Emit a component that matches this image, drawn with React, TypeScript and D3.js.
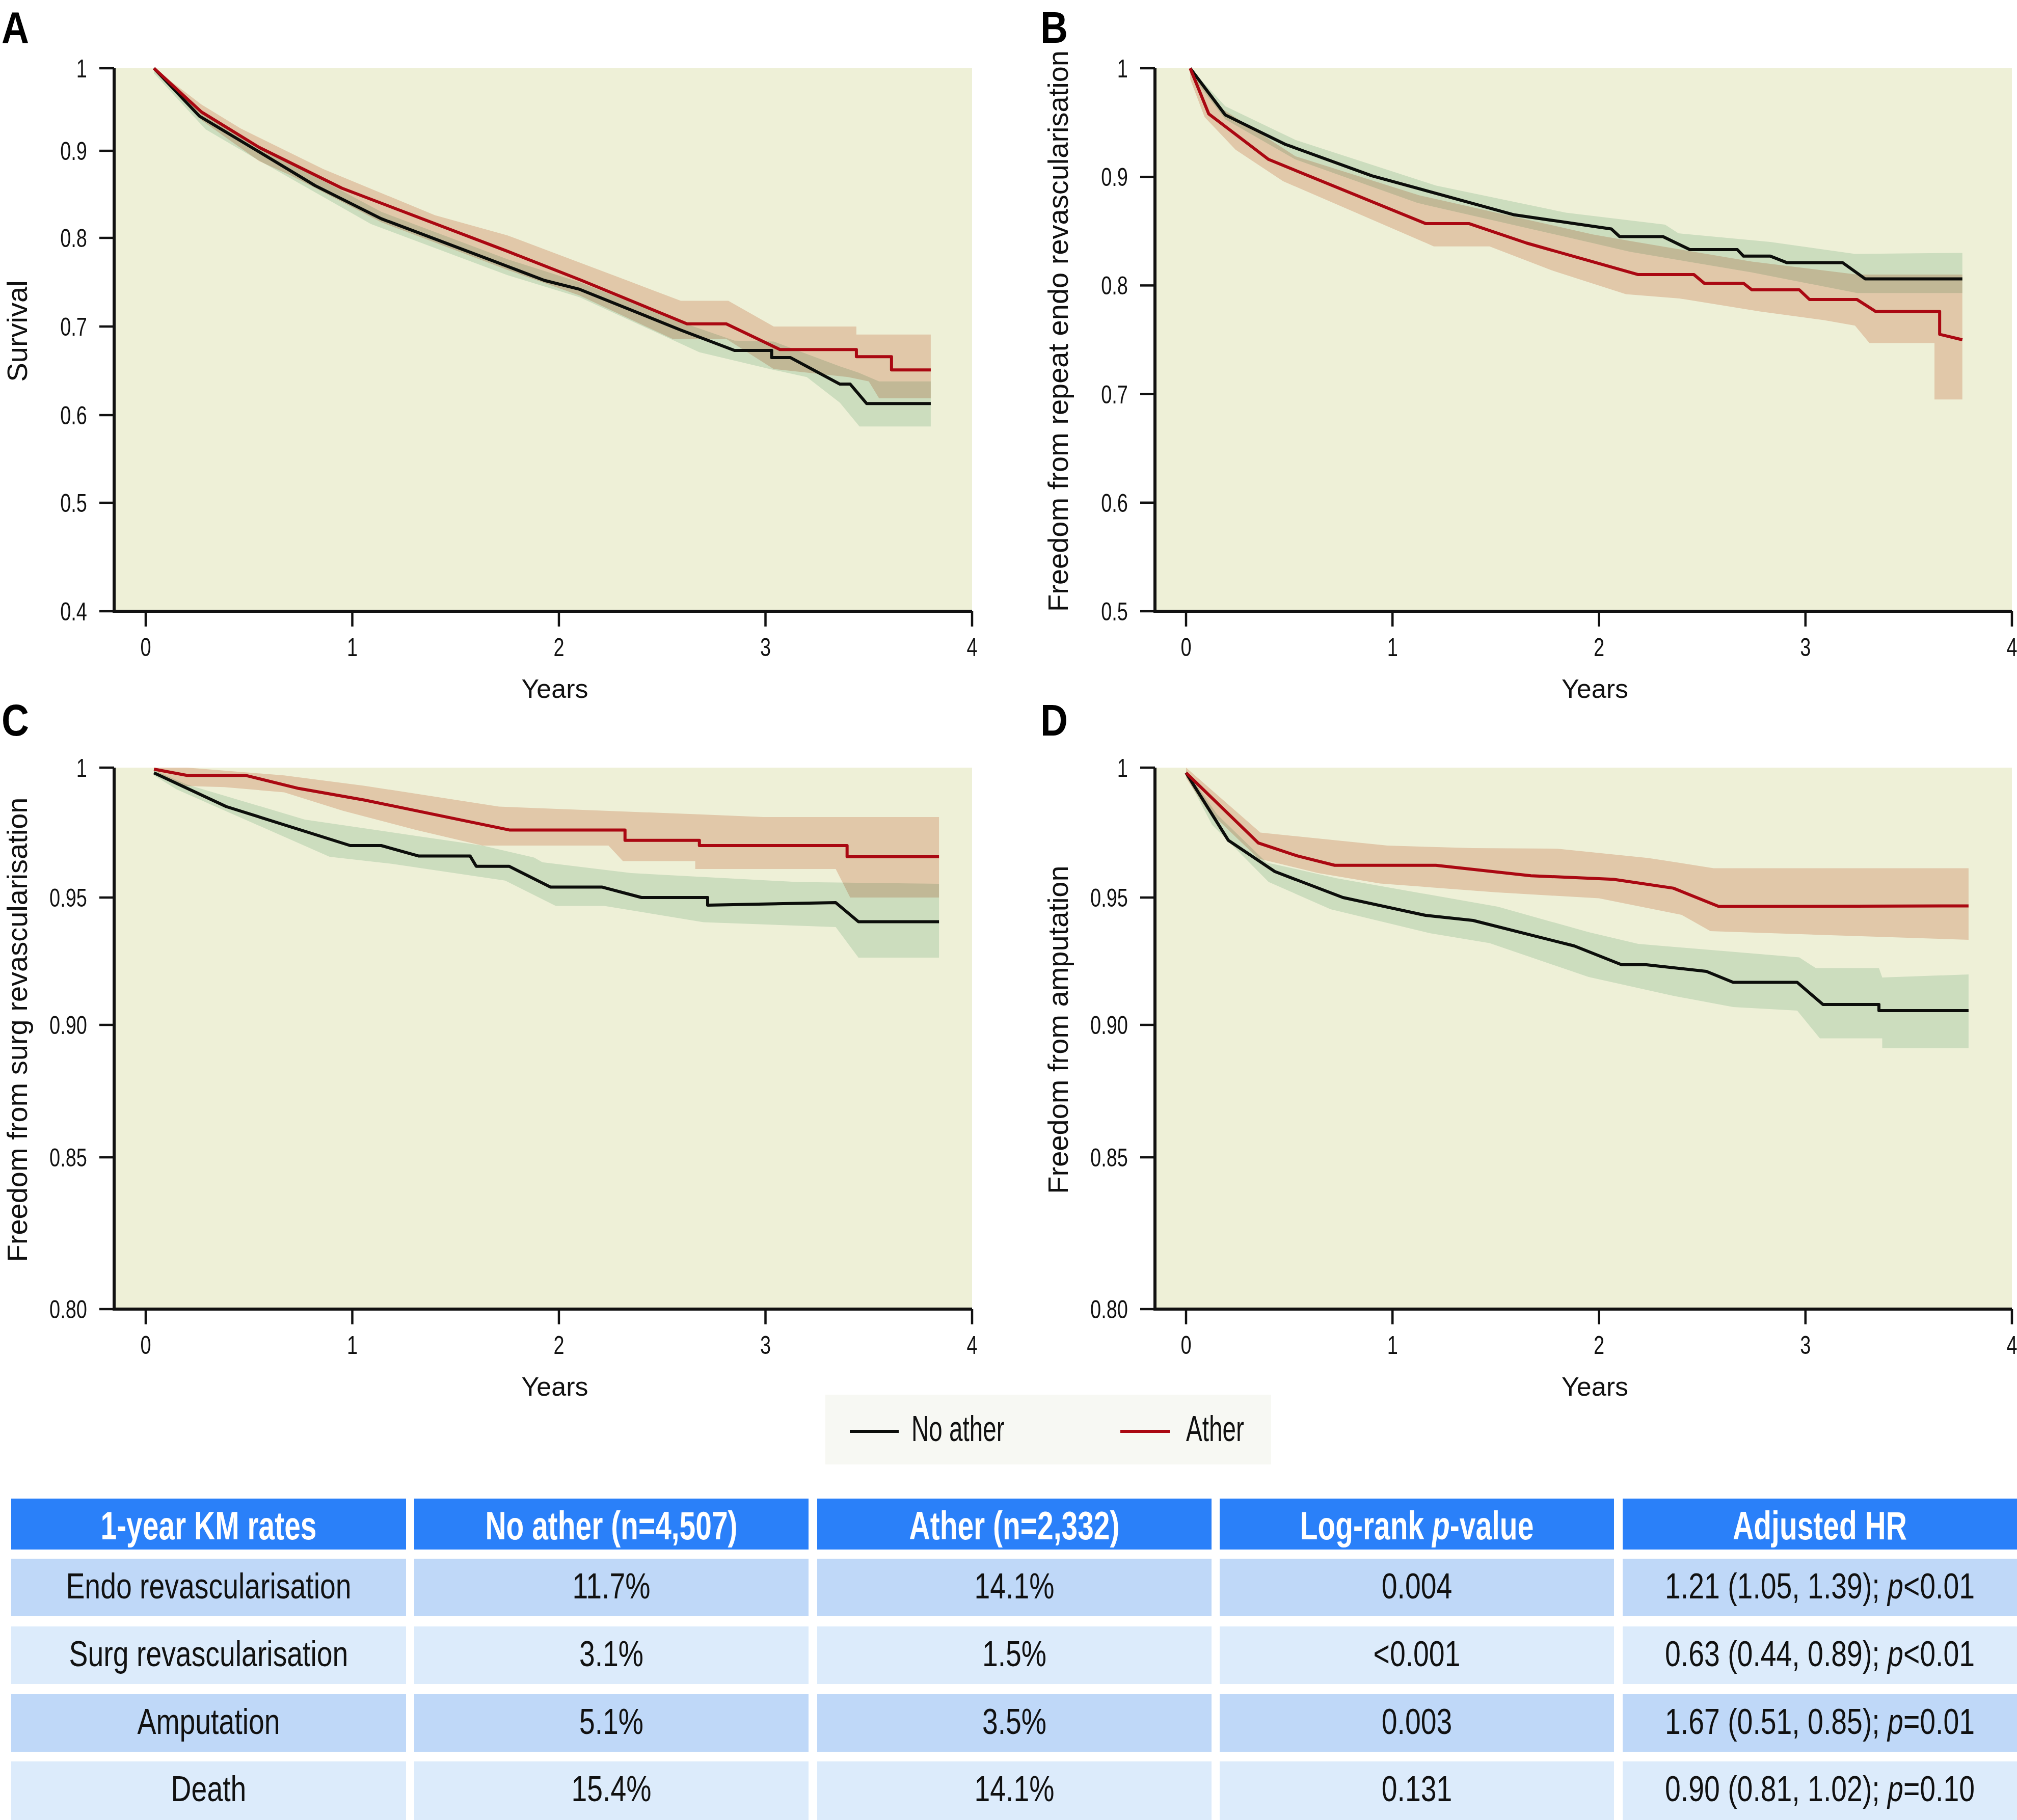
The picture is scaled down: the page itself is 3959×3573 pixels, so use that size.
import React from "react";
import * as d3 from "d3";

const W = 3959;
const H = 3573;

// ---------- data ----------
const xTicks = [0, 1, 2, 3, 4];
const xTickLabels = ["0", "1", "2", "3", "4"];

const yTicksA = [1, 0.9, 0.8, 0.7, 0.6, 0.5, 0.4];
const yTickLabelsA = ["1", "0.9", "0.8", "0.7", "0.6", "0.5", "0.4"];
const yTicksB = [1, 0.9, 0.8, 0.7, 0.6, 0.5];
const yTickLabelsB = ["1", "0.9", "0.8", "0.7", "0.6", "0.5"];
const yTicksCD = [1, 0.95, 0.9, 0.85, 0.8];
const yTickLabelsCD = ["1", "0.95", "0.90", "0.85", "0.80"];

type P = [number, number];

// Panel A – survival
const survNoAther: P[] = [[0.04,1.0],[0.26,0.942],[0.54,0.900],[0.82,0.860],[1.14,0.822],[1.75,0.768],[1.93,0.752],[2.10,0.742],[2.59,0.696],[2.85,0.673],[3.03,0.673],[3.03,0.665],[3.12,0.665],[3.36,0.635],[3.41,0.635],[3.49,0.613],[3.80,0.613]];
const survAther: P[] = [[0.04,1.0],[0.27,0.947],[0.55,0.904],[0.95,0.857],[1.75,0.785],[2.11,0.752],[2.62,0.703],[2.81,0.703],[3.07,0.674],[3.44,0.674],[3.44,0.666],[3.61,0.666],[3.61,0.651],[3.80,0.651]];
const survNoAtherHi: P[] = [[0.04,1.0],[0.26,0.948],[0.54,0.906],[1.14,0.830],[1.75,0.776],[2.10,0.750],[2.59,0.705],[2.85,0.684],[3.04,0.683],[3.12,0.676],[3.36,0.655],[3.45,0.648],[3.55,0.638],[3.80,0.638]];
const survNoAtherLo: P[] = [[0.04,0.994],[0.29,0.926],[0.54,0.890],[1.09,0.816],[1.75,0.758],[2.10,0.733],[2.68,0.671],[3.04,0.651],[3.20,0.643],[3.36,0.614],[3.455,0.587],[3.80,0.587]];
const survAtherHi: P[] = [[0.04,1.0],[0.27,0.956],[0.46,0.927],[0.86,0.879],[1.40,0.826],[1.75,0.803],[2.33,0.752],[2.59,0.729],[2.82,0.729],[3.04,0.700],[3.44,0.700],[3.44,0.691],[3.80,0.691]];
const survAtherLo: P[] = [[0.04,0.997],[0.27,0.937],[0.55,0.888],[0.70,0.872],[1.14,0.818],[1.75,0.764],[2.10,0.735],[2.55,0.686],[2.81,0.686],[3.04,0.652],[3.40,0.643],[3.50,0.638],[3.55,0.619],[3.80,0.619]];

// Panel B – repeat endo revascularisation
const endoNoAther: P[] = [[0.02,1.0],[0.19,0.957],[0.48,0.930],[0.90,0.901],[1.59,0.865],[2.06,0.852],[2.10,0.845],[2.31,0.845],[2.44,0.833],[2.67,0.833],[2.70,0.827],[2.83,0.827],[2.91,0.821],[3.18,0.821],[3.29,0.806],[3.76,0.806]];
const endoAther: P[] = [[0.02,1.0],[0.11,0.958],[0.40,0.916],[1.16,0.857],[1.37,0.857],[1.65,0.839],[2.19,0.810],[2.46,0.810],[2.51,0.802],[2.70,0.802],[2.74,0.796],[2.97,0.796],[3.02,0.787],[3.25,0.787],[3.34,0.776],[3.65,0.776],[3.65,0.755],[3.76,0.750]];
const endoNoAtherHi: P[] = [[0.02,1.0],[0.19,0.965],[0.53,0.934],[1.21,0.892],[1.84,0.867],[2.32,0.856],[2.385,0.848],[2.83,0.840],[3.24,0.829],[3.76,0.830]];
const endoNoAtherLo: P[] = [[0.02,0.995],[0.19,0.953],[0.53,0.916],[1.12,0.876],[1.97,0.839],[2.15,0.831],[2.74,0.812],[3.25,0.793],[3.76,0.793]];
const endoAtherHi: P[] = [[0.02,1.0],[0.18,0.962],[0.53,0.919],[1.13,0.883],[1.97,0.847],[2.15,0.841],[2.74,0.822],[3.25,0.810],[3.76,0.810]];
const endoAtherLo: P[] = [[0.02,0.99],[0.09,0.955],[0.24,0.925],[0.47,0.896],[1.20,0.836],[1.47,0.836],[1.77,0.814],[2.13,0.792],[2.39,0.788],[2.78,0.776],[3.09,0.768],[3.24,0.763],[3.31,0.747],[3.625,0.747],[3.625,0.695],[3.76,0.695]];

// Panel C – surgical revascularisation
const surgNoAther: P[] = [[0.04,0.998],[0.39,0.985],[0.99,0.970],[1.14,0.970],[1.32,0.966],[1.57,0.966],[1.60,0.962],[1.76,0.962],[1.96,0.954],[2.21,0.954],[2.40,0.950],[2.72,0.950],[2.72,0.947],[3.34,0.948],[3.45,0.9405],[3.84,0.9405]];
const surgAther: P[] = [[0.04,0.9994],[0.20,0.997],[0.485,0.997],[0.74,0.992],[1.06,0.9875],[1.76,0.976],[2.32,0.976],[2.32,0.972],[2.68,0.972],[2.68,0.970],[3.395,0.970],[3.395,0.9657],[3.84,0.9657]];
const surgNoAtherHi: P[] = [[0.04,0.999],[0.20,0.9935],[0.77,0.980],[1.32,0.9736],[1.63,0.970],[1.88,0.9654],[1.92,0.9636],[2.35,0.9594],[3.15,0.956],[3.84,0.9553]];
const surgNoAtherLo: P[] = [[0.04,0.997],[0.15,0.9916],[0.89,0.9657],[1.19,0.963],[1.74,0.9565],[1.985,0.9467],[2.22,0.9467],[2.70,0.9403],[3.34,0.9384],[3.45,0.9264],[3.84,0.9264]];
const surgAtherHi: P[] = [[0.04,1.0],[0.20,1.0],[0.67,0.997],[1.06,0.993],[1.71,0.985],[2.68,0.982],[2.99,0.981],[3.84,0.981]];
const surgAtherLo: P[] = [[0.04,0.999],[0.17,0.993],[0.38,0.9925],[0.67,0.9905],[0.955,0.9834],[1.31,0.976],[1.63,0.970],[2.24,0.970],[2.31,0.964],[2.66,0.964],[2.66,0.961],[3.34,0.961],[3.41,0.950],[3.84,0.950]];

// Panel D – amputation
const ampNoAther: P[] = [[0.0,0.998],[0.205,0.972],[0.43,0.960],[0.76,0.950],[1.16,0.943],[1.39,0.941],[1.88,0.931],[2.11,0.9236],[2.23,0.9236],[2.52,0.921],[2.65,0.9167],[2.96,0.9167],[3.085,0.908],[3.356,0.908],[3.356,0.9056],[3.79,0.9056]];
const ampAther: P[] = [[0.0,0.998],[0.35,0.971],[0.54,0.966],[0.72,0.9624],[1.21,0.9624],[1.67,0.9584],[2.07,0.957],[2.36,0.9536],[2.58,0.9465],[3.79,0.9467]];
const ampNoAtherHi: P[] = [[0.0,0.999],[0.15,0.982],[0.39,0.9635],[0.73,0.9574],[1.51,0.9464],[1.95,0.9364],[2.19,0.9318],[2.97,0.9265],[3.05,0.9223],[3.356,0.9223],[3.372,0.9186],[3.79,0.9198]];
const ampNoAtherLo: P[] = [[0.0,0.997],[0.126,0.978],[0.40,0.956],[0.70,0.9454],[1.18,0.936],[1.47,0.9321],[1.95,0.9188],[2.36,0.9114],[2.65,0.907],[2.96,0.9056],[3.07,0.8949],[3.372,0.8949],[3.372,0.8912],[3.79,0.8912]];
const ampAtherHi: P[] = [[0.0,1.0],[0.36,0.975],[0.975,0.970],[1.39,0.969],[1.80,0.9688],[2.24,0.9652],[2.555,0.9613],[3.79,0.9613]];
const ampAtherLo: P[] = [[0.0,0.996],[0.10,0.984],[0.35,0.965],[0.64,0.9594],[0.94,0.9554],[1.50,0.952],[2.0,0.9497],[2.40,0.9432],[2.54,0.9368],[3.79,0.9334]];

// Legend
const seriesNames = ["No ather", "Ather"];

// Table
const tableHeader = ["1-year KM rates", "No ather (n=4,507)", "Ather (n=2,332)", "Log-rank |p|-value", "Adjusted HR"];
const outcomes = ["Endo revascularisation", "Surg revascularisation", "Amputation", "Death"];
const rateNoAther = ["11.7%", "3.1%", "5.1%", "15.4%"];
const rateAther = ["14.1%", "1.5%", "3.5%", "14.1%"];
const logRankP = ["0.004", "<0.001", "0.003", "0.131"];
const adjustedHR = ["1.21 (1.05, 1.39); |p|<0.01", "0.63 (0.44, 0.89); |p|<0.01", "1.67 (0.51, 0.85); |p|=0.01", "0.90 (0.81, 1.02); |p|=0.10"];

// ---------- styles / layout ----------
const FONT = "'Liberation Sans', Arial, Helvetica, sans-serif";
const PLOT_BG = "#eef0d7";
const GREEN_BAND = "#dbebe2";
const RED_BAND = "#f1d5c9";
const BLACK = "#0c0e0b";
const RED = "#aa0812";
const HEADER_BG = "#2a80f9";
const ROW_DARK = "#bfd8f8";
const ROW_LIGHT = "#dcebfb";

const fracA = [0, 0.152, 0.3124, 0.4756, 0.6388, 0.8002, 1];
const fracB = [0, 0.2, 0.4, 0.6, 0.8, 1];
const fracCD = [0, 0.2399, 0.4751, 0.7197, 1];

interface PanelCfg {
  letter: string;
  letterX: number;
  letterY: number;
  axisX: number;
  x0: number;
  x4: number;
  top: number;
  bottom: number;
  yTicks: number[];
  yLabels: string[];
  yFrac: number[];
  title: string;
  noAther: P[];
  ather: P[];
  noAtherHi: P[];
  noAtherLo: P[];
  atherHi: P[];
  atherLo: P[];
}

const panels: PanelCfg[] = [
  { letter: "A", letterX: 3, letterY: 84, axisX: 224, x0: 286, x4: 1908, top: 134, bottom: 1200,
    yTicks: yTicksA, yLabels: yTickLabelsA, yFrac: fracA, title: "Survival",
    noAther: survNoAther, ather: survAther, noAtherHi: survNoAtherHi, noAtherLo: survNoAtherLo, atherHi: survAtherHi, atherLo: survAtherLo },
  { letter: "B", letterX: 2042, letterY: 84, axisX: 2267, x0: 2328, x4: 3949, top: 134, bottom: 1200,
    yTicks: yTicksB, yLabels: yTickLabelsB, yFrac: fracB, title: "Freedom from repeat endo revascularisation",
    noAther: endoNoAther, ather: endoAther, noAtherHi: endoNoAtherHi, noAtherLo: endoNoAtherLo, atherHi: endoAtherHi, atherLo: endoAtherLo },
  { letter: "C", letterX: 3, letterY: 1444, axisX: 224, x0: 286, x4: 1908, top: 1507, bottom: 2570,
    yTicks: yTicksCD, yLabels: yTickLabelsCD, yFrac: fracCD, title: "Freedom from surg revascularisation",
    noAther: surgNoAther, ather: surgAther, noAtherHi: surgNoAtherHi, noAtherLo: surgNoAtherLo, atherHi: surgAtherHi, atherLo: surgAtherLo },
  { letter: "D", letterX: 2042, letterY: 1444, axisX: 2267, x0: 2328, x4: 3949, top: 1507, bottom: 2570,
    yTicks: yTicksCD, yLabels: yTickLabelsCD, yFrac: fracCD, title: "Freedom from amputation",
    noAther: ampNoAther, ather: ampAther, noAtherHi: ampNoAtherHi, noAtherLo: ampNoAtherLo, atherHi: ampAtherHi, atherLo: ampAtherLo },
];

// condensed text helper
function CText(props: {
  x: number; y: number; sx: number; size: number; text: string; anchor?: string;
  weight?: string | number; fill?: string;
}) {
  const { x, y, sx, size, text, anchor = "start", weight = "normal", fill = "#111" } = props;
  const parts = text.split("|");
  return (
    <g transform={`translate(${x},${y}) scale(${sx},1)`}>
      <text x={0} y={0} textAnchor={anchor} fontFamily={FONT} fontSize={size} fontWeight={weight} fill={fill}>
        {parts.map((p, i) => (
          <tspan key={i} fontStyle={i % 2 === 1 ? "italic" : "normal"}>{p}</tspan>
        ))}
      </text>
    </g>
  );
}

function Panel({ cfg }: { cfg: PanelCfg }) {
  const xs = d3.scaleLinear().domain([0, 4]).range([cfg.x0, cfg.x4]);
  const ys = d3
    .scaleLinear()
    .domain(cfg.yTicks)
    .range(cfg.yFrac.map((f) => cfg.top + f * (cfg.bottom - cfg.top)));
  const line = d3
    .line<P>()
    .x((d) => xs(d[0]))
    .y((d) => ys(d[1]))
    .curve(d3.curveLinear);
  const band = (hi: P[], lo: P[]) => line(hi.concat(lo.slice().reverse())) + "Z";
  const midY = (cfg.top + cfg.bottom) / 2 - 17;
  const titleX = cfg.axisX - 171;

  return (
    <g>
      <CText x={cfg.letterX} y={cfg.letterY} sx={0.85} size={88} text={cfg.letter} weight="bold" fill="#000" />
      <rect x={cfg.axisX} y={cfg.top} width={cfg.x4 - cfg.axisX} height={cfg.bottom - cfg.top} fill={PLOT_BG} />
      <path d={band(cfg.noAtherHi, cfg.noAtherLo)} fill={GREEN_BAND} style={{ mixBlendMode: "multiply" }} />
      <path d={band(cfg.atherHi, cfg.atherLo)} fill={RED_BAND} style={{ mixBlendMode: "multiply" }} />
      <path d={line(cfg.noAther) || ""} fill="none" stroke={BLACK} strokeWidth={6} strokeLinejoin="round" />
      <path d={line(cfg.ather) || ""} fill="none" stroke={RED} strokeWidth={6} strokeLinejoin="round" />
      {/* y axis */}
      <line x1={cfg.axisX} x2={cfg.axisX} y1={cfg.top} y2={cfg.bottom + 3} stroke="#111" strokeWidth={6} />
      {cfg.yTicks.map((t, i) => (
        <g key={"yt" + i}>
          <line x1={cfg.axisX - 29} x2={cfg.axisX} y1={ys(t)} y2={ys(t)} stroke="#111" strokeWidth={4.5} />
          <CText x={cfg.axisX - 53} y={ys(t) + 18} sx={0.76} size={50} text={cfg.yLabels[i]} anchor="end" />
        </g>
      ))}
      {/* x axis */}
      <line x1={cfg.axisX - 3} x2={cfg.x4} y1={cfg.bottom} y2={cfg.bottom} stroke="#111" strokeWidth={6} />
      {xTicks.map((t, i) => (
        <g key={"xt" + i}>
          <line x1={xs(t)} x2={xs(t)} y1={cfg.bottom} y2={cfg.bottom + 30} stroke="#111" strokeWidth={4.5} />
          <CText x={xs(t)} y={cfg.bottom + 88} sx={0.76} size={50} text={xTickLabels[i]} anchor="middle" />
        </g>
      ))}
      <text x={(cfg.x0 + cfg.x4) / 2 - 8} y={cfg.bottom + 170} textAnchor="middle" fontFamily={FONT} fontSize={52} fill="#111">
        Years
      </text>
      <text
        transform={`translate(${titleX},${midY}) rotate(-90)`}
        textAnchor="middle"
        fontFamily={FONT}
        fontSize={56}
        fill="#111"
      >
        {cfg.title}
      </text>
    </g>
  );
}

function Legend() {
  return (
    <g>
      <rect x={1620} y={2738} width={875} height={137} fill="#f7f8f3" />
      <line x1={1668} x2={1764} y1={2810} y2={2810} stroke={BLACK} strokeWidth={6} />
      <CText x={1789} y={2829} sx={0.68} size={70} text={seriesNames[0]} />
      <line x1={2199} x2={2296} y1={2810} y2={2810} stroke={RED} strokeWidth={6} />
      <CText x={2328} y={2829} sx={0.68} size={70} text={seriesNames[1]} />
    </g>
  );
}

function Table() {
  const colX = [22, 813, 1604, 2394, 3185];
  const colW = [775, 774, 774, 774, 774];
  const headerTop = 2942;
  const headerH = 100;
  const rowTop = [3060, 3193, 3326, 3458];
  const rowH = 113;
  const columns = [outcomes, rateNoAther, rateAther, logRankP, adjustedHR];
  return (
    <g>
      {tableHeader.map((h, c) => (
        <g key={"h" + c}>
          <rect x={colX[c]} y={headerTop} width={colW[c]} height={headerH} fill={HEADER_BG} />
          <CText x={colX[c] + colW[c] / 2} y={headerTop + 80} sx={0.73} size={78} text={h} anchor="middle" weight="bold" fill="#fff" />
        </g>
      ))}
      {outcomes.map((_, r) => (
        <g key={"r" + r}>
          {columns.map((col, c) => (
            <g key={"c" + c}>
              <rect x={colX[c]} y={rowTop[r]} width={colW[c]} height={r === 3 ? H - rowTop[r] : rowH} fill={r % 2 === 0 ? ROW_DARK : ROW_LIGHT} />
              <CText x={colX[c] + colW[c] / 2} y={rowTop[r] + 78} sx={0.78} size={71} text={col[r]} anchor="middle" />
            </g>
          ))}
        </g>
      ))}
    </g>
  );
}

export default function App() {
  return (
    <svg
      width={W}
      height={H}
      viewBox={`0 0 ${W} ${H}`}
      style={{ position: "absolute", left: 0, top: 0, background: "#fff", display: "block" }}
    >
      <rect x={0} y={0} width={W} height={H} fill="#fff" />
      {panels.map((p) => (
        <Panel key={p.letter} cfg={p} />
      ))}
      <Legend />
      <Table />
    </svg>
  );
}
